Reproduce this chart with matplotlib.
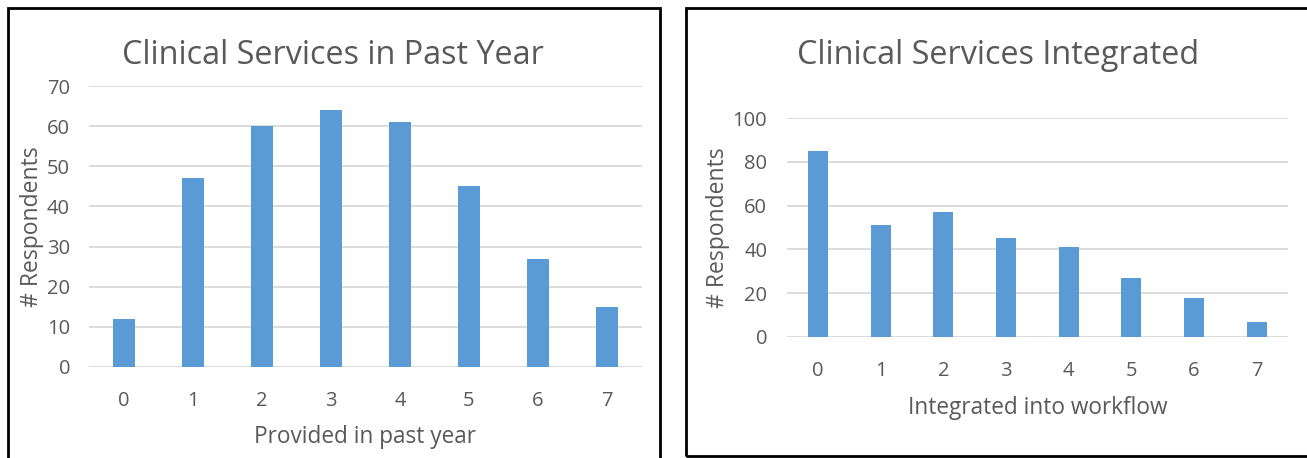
import matplotlib
matplotlib.use("Agg")
import matplotlib.pyplot as plt
from matplotlib.patches import Rectangle

categories = ["0", "1", "2", "3", "4", "5", "6", "7"]
past_year = [12, 47, 60, 64, 61, 45, 27, 15]
integrated = [85, 51, 57, 45, 41, 27, 18, 7]
left_yticks = [0, 10, 20, 30, 40, 50, 60, 70]
right_yticks = [0, 20, 40, 60, 80, 100]

W, H = 1307, 458
fig = plt.figure(figsize=(W / 100, H / 100), dpi=100)
plt.rcParams['font.family'] = ['Open Sans', 'DejaVu Sans']

BAR = "#5b9bd5"
TXT = "#595959"
GRID = "#d9d9d9"

def fx(px):
    return px / W

def fy(py):
    return 1 - py / H

# panel borders
fig.patches.append(Rectangle((fx(8), fy(470)), fx(660) - fx(8), fy(8) - fy(470),
                             transform=fig.transFigure, fill=False, ec="black", lw=2))
fig.patches.append(Rectangle((fx(686), fy(456)), fx(1320) - fx(686), fy(8) - fy(456),
                             transform=fig.transFigure, fill=False, ec="black", lw=2))

def panel(ax, vals, yticks, ymax, title, xlabel, title_x, title_y, xlabel_y):
    x = range(len(categories))
    ax.bar(x, vals, width=0.32, color=BAR, zorder=3)
    ax.set_xlim(-0.5, len(categories) - 0.5)
    ax.set_ylim(0, ymax)
    ax.set_yticks(yticks)
    ax.set_xticks(list(x))
    ax.set_xticklabels(categories)
    ax.yaxis.grid(True, color=GRID, lw=1.3, zorder=0)
    ax.set_axisbelow(True)
    for s in ax.spines.values():
        s.set_visible(False)
    ax.tick_params(axis="both", length=0, colors=TXT, labelsize=14.5)
    ax.tick_params(axis="x", pad=17)
    ax.tick_params(axis="y", pad=14)
    ax.set_ylabel("# Respondents", color=TXT, fontsize=16.5, labelpad=2)
    fig.text(title_x, title_y, title, ha="center", va="center", color=TXT, fontsize=23.3)
    fig.text((ax.get_position().x0 + ax.get_position().x1) / 2, xlabel_y, xlabel,
             ha="center", va="center", color=TXT, fontsize=16.3)

# left axes: plot area x 89.5..641.5, y0 at 367, y70 at 86
axL = fig.add_axes([fx(89.5), fy(367), fx(641.5) - fx(89.5), fy(86) - fy(367)])
panel(axL, past_year, left_yticks, 70, "Clinical Services in Past Year",
      "Provided in past year", fx(333), fy(56), fy(437))

# right axes: x 786.6..1288, y0 at 337, y100 at 118
axR = fig.add_axes([fx(786.6), fy(337), fx(1288) - fx(786.6), fy(118) - fy(337)])
panel(axR, integrated, right_yticks, 100, "Clinical Services Integrated",
      "Integrated into workflow", fx(998), fy(55), fy(408))

fig.savefig("out.png", dpi=100, facecolor="white")
